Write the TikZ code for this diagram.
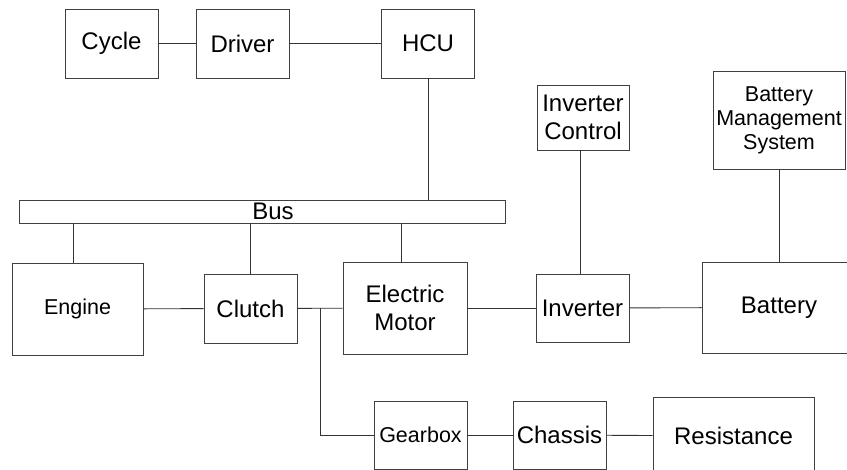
\documentclass[tikz,border=0pt]{standalone}
\usepackage{fontspec}
\setmainfont{Liberation Sans}
\usetikzlibrary{
    calc,
    positioning
}
\newcommand{\bigtext}{%
    \fontsize{24}{28}\selectfont%
}
\newcommand{\smalltext}{%
    \fontsize{21.5}{24}\selectfont%
}

\begin{document}
\begin{tikzpicture}[
    x=1pt,
    y=-1pt,
    block/.style={
        rectangle,
        draw=black!75,
        line width=0.9pt,
        align=center,
        inner sep=1pt,
        font=\bigtext,
        minimum width=93pt,
        minimum height=69pt
    },
    smallblock/.style={
        block,
        font=\smalltext
    },
    link/.style={
        draw=black!80,
        line width=0.9pt
    }
]

\useasboundingbox (0,0) rectangle (847,470);
\clip (0,0) rectangle (847,470);

% top row

\node[block] (cycle) at (111.5,43.5) {Cycle};

\node[block] (driver) at (242.5,43.5) {Driver};

\node[block] (hcu) at (428,43.5) {HCU};

% bus

\node[
    block,
    minimum width=486pt,
    minimum height=23pt,
    label={[font=\bigtext, xshift=11pt]center:Bus}
] (bus) at (262,211.5) {};

% control units

\node[block,
    minimum width=92pt,
    minimum height=65pt
] (invctrl) at (583,117.5) {
    Inverter\\
    Control
};

\node[smallblock,
    minimum width=132pt,
    minimum height=98pt
] (bms) at (779,120) {
    Battery\\
    Management\\
    System
};

% drive train

\node[smallblock,
    minimum width=131pt,
    minimum height=92pt
] (engine) at (77.5,309) {Engine};

\node[block] (clutch) at (250.5,308.5) {Clutch};

\node[block,
    minimum width=124pt,
    minimum height=92pt
] (motor) at (405,308) {
    Electric\\
    Motor
};

\node[block,
    minimum height=68pt
] (inverter) at (582.5,308) {Inverter};

\node[block,
    minimum width=154pt,
    minimum height=91pt
] (battery) at (779,307.5) {Battery};

% vehicle

\node[smallblock,
    minimum height=68pt
] (gearbox) at (420.5,435) {Gearbox};

\node[block,
    minimum height=68pt
] (chassis) at (559.5,435) {Chassis};

\node[block,
    minimum width=161pt,
    minimum height=78pt
] (resistance) at (733.5,436) {Resistance};

% top row links

\draw[link]
    (cycle) -- (driver);

\draw[link]
    (driver) -- (hcu);

\draw[link]
    (hcu.south) -- (hcu.south |- bus.north);

% bus drops

\draw[link]
    ([xshift=-4.5pt]engine.north)
    -- ([xshift=-4.5pt]engine.north |- bus.south);

\draw[link]
    (clutch.north) -- (clutch.north |- bus.south);

\draw[link]
    ([xshift=-4pt]motor.north)
    -- ([xshift=-4pt]motor.north |- bus.south);

% control unit links

\draw[link]
    ([xshift=-3pt]invctrl.south)
    -- ([xshift=-3pt]invctrl.south |- inverter.north);

\draw[link]
    (bms.south) -- (battery.north);

% drive train links

\draw[link]
    (engine) -- (clutch);

\draw[link]
    (clutch) -- (motor);

\draw[link]
    (motor) -- (inverter);

\draw[link]
    (inverter) -- (battery);

% clutch to gearbox

\coordinate (tap) at ($(clutch.east)!0.5!(motor.west)$);

\draw[link]
    (tap) |- (gearbox.west);

\draw[link]
    (gearbox) -- (chassis);

\draw[link]
    (chassis) -- (resistance);

\end{tikzpicture}
\end{document}
